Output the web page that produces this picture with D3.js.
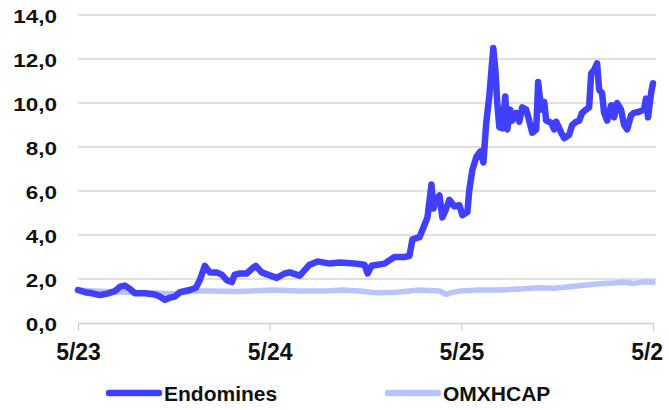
<!DOCTYPE html>
<html><head><meta charset="utf-8">
<script src="https://cdn.jsdelivr.net/npm/d3@7"></script>
<style>
html,body{margin:0;padding:0;background:#fff;}
svg text{font-family:"Liberation Sans",Arial,sans-serif;font-weight:bold;fill:#111;}
</style></head>
<body><svg id="c" width="663" height="410"></svg>
<script>
// months since May 2023
const endMonth = [0,0.44,0.88,1.38,1.88,2.31,2.63,2.94,3.25,3.56,4.19,4.81,5.13,5.44,5.75,6.06,6.38,7.0,7.38,7.63,7.94,8.25,8.69,9.0,9.31,9.63,9.81,10.13,10.56,10.94,11.13,11.5,11.88,12.44,12.94,13.25,13.88,14.19,14.5,15.0,15.75,16.38,17.31,17.94,18.13,18.38,19.19,19.81,20.44,20.75,20.94,21.38,21.69,21.88,22.13,22.25,22.44,22.63,22.81,23.0,23.25,23.56,23.88,24.06,24.38,24.5,24.69,24.94,25.19,25.38,25.56,25.75,26.0,26.13,26.25,26.38,26.56,26.75,26.88,27.06,27.19,27.44,27.63,27.81,28.06,28.25,28.44,28.69,28.81,29.0,29.19,29.31,29.63,29.81,29.94,30.25,30.44,30.75,30.94,31.19,31.38,31.56,31.81,32.0,32.13,32.31,32.5,32.63,32.81,32.94,33.13,33.38,33.56,33.75,34.0,34.19,34.38,34.63,34.81,35.13,35.44,35.56,35.69,35.88,36.0];
const endValue = [1.5,1.4,1.35,1.27,1.35,1.45,1.65,1.7,1.55,1.35,1.35,1.3,1.2,1.05,1.15,1.2,1.4,1.5,1.6,1.95,2.6,2.3,2.3,2.2,1.95,1.86,2.2,2.25,2.25,2.5,2.6,2.3,2.2,2.05,2.25,2.3,2.15,2.4,2.65,2.8,2.7,2.75,2.7,2.65,2.25,2.6,2.7,3.0,3.0,3.05,3.8,3.9,4.45,4.8,6.3,5.2,5.6,5.8,4.8,5.1,5.6,5.3,5.35,4.9,5.05,6.05,6.95,7.55,7.8,7.3,9.1,10.3,12.5,11.5,10.0,8.9,8.85,10.3,8.8,9.7,9.2,9.55,9.15,9.8,9.7,9.2,8.65,8.8,10.95,9.7,10.05,9.2,9.1,8.8,9.15,8.65,8.4,8.55,9.0,9.15,9.2,9.55,9.7,9.8,11.35,11.5,11.8,10.6,10.45,9.55,9.2,9.9,9.35,10.0,9.7,9.0,8.8,9.45,9.55,9.6,9.7,10.2,9.35,10.45,10.9];
const omxMonth = [0,1.06,2.0,3.06,4.19,5.13,6.06,6.69,7.19,8.25,10.13,12.19,13.88,15.56,16.56,17.63,18.69,19.94,21.38,22.63,23.06,23.38,23.88,25.13,26.38,27.63,28.88,29.81,30.75,31.69,32.63,33.56,34.19,34.81,35.44,36.0];
const omxValue = [1.5,1.45,1.42,1.4,1.38,1.35,1.33,1.38,1.45,1.45,1.43,1.5,1.45,1.45,1.5,1.45,1.37,1.4,1.5,1.45,1.3,1.38,1.45,1.5,1.5,1.55,1.6,1.58,1.65,1.72,1.78,1.82,1.85,1.8,1.87,1.85];
const xTickMonths = [0,12,24,36];
const xTickLabels = ["5/23","5/24","5/25","5/26"];
const yTicks = [0,2,4,6,8,10,12,14];
const seriesNames = ["Endomines","OMXHCAP"];
const seriesColors = ["#3f3ffd","#b8c3ff"];

const svg = d3.select("#c");
const x = d3.scaleLinear().domain([0,36]).range([78,653]);
const y = d3.scaleLinear().domain([0,14]).range([323,15]);
const fmt = v => d3.format(".1f")(v).replace(".", ",");

// gridlines
svg.append("g").selectAll("line").data(yTicks.filter(d=>d>0)).join("line")
  .attr("x1",78).attr("x2",656).attr("y1",d=>y(d)).attr("y2",d=>y(d))
  .attr("stroke","#d3d6de").attr("stroke-width",1.3);
// y labels (wide)
svg.append("g").selectAll("text").data(yTicks).join("text")
  .attr("transform",d=>`translate(57,${y(d)+7.5}) scale(1.25,1)`)
  .attr("text-anchor","end").attr("font-size",18).text(fmt);

// x axis
const xAxis = d3.axisBottom(x).tickValues(xTickMonths)
  .tickFormat((d,i)=>xTickLabels[i]).tickSize(8).tickSizeOuter(0).tickPadding(0);
const ax = svg.append("g").attr("transform","translate(0,323)").call(xAxis);
ax.select(".domain").attr("stroke","#cdd0d8").attr("stroke-width",1.3);
ax.selectAll(".tick line").attr("stroke","#cdd0d8").attr("stroke-width",1.3);
ax.selectAll(".tick text").attr("font-size",23).attr("font-family",null).attr("fill","#111")
  .attr("y",37).attr("dy",null);

const line = d3.line().x(d=>x(d[0])).y(d=>y(d[1])).curve(d3.curveLinear);
svg.append("path").datum(d3.zip(omxMonth,omxValue)).attr("d",line)
  .attr("fill","none").attr("stroke",seriesColors[1]).attr("stroke-width",5.5)
  .attr("stroke-linejoin","round").attr("stroke-linecap","round");
svg.append("path").datum(d3.zip(endMonth,endValue)).attr("d",line)
  .attr("fill","none").attr("stroke",seriesColors[0]).attr("stroke-width",6.5)
  .attr("stroke-linejoin","round").attr("stroke-linecap","round");

// legend
const legX = [109,388];
const lg = svg.append("g").selectAll("g").data(seriesNames).join("g")
  .attr("transform",(d,i)=>`translate(${legX[i]},393)`);
lg.append("line").attr("x1",0).attr("x2",50).attr("y1",0).attr("y2",0)
  .attr("stroke",(d,i)=>seriesColors[i]).attr("stroke-width",6.5).attr("stroke-linecap","round");
lg.append("text").attr("x",55).attr("y",7.5).attr("font-size",21).text(d=>d);
</script></body></html>
